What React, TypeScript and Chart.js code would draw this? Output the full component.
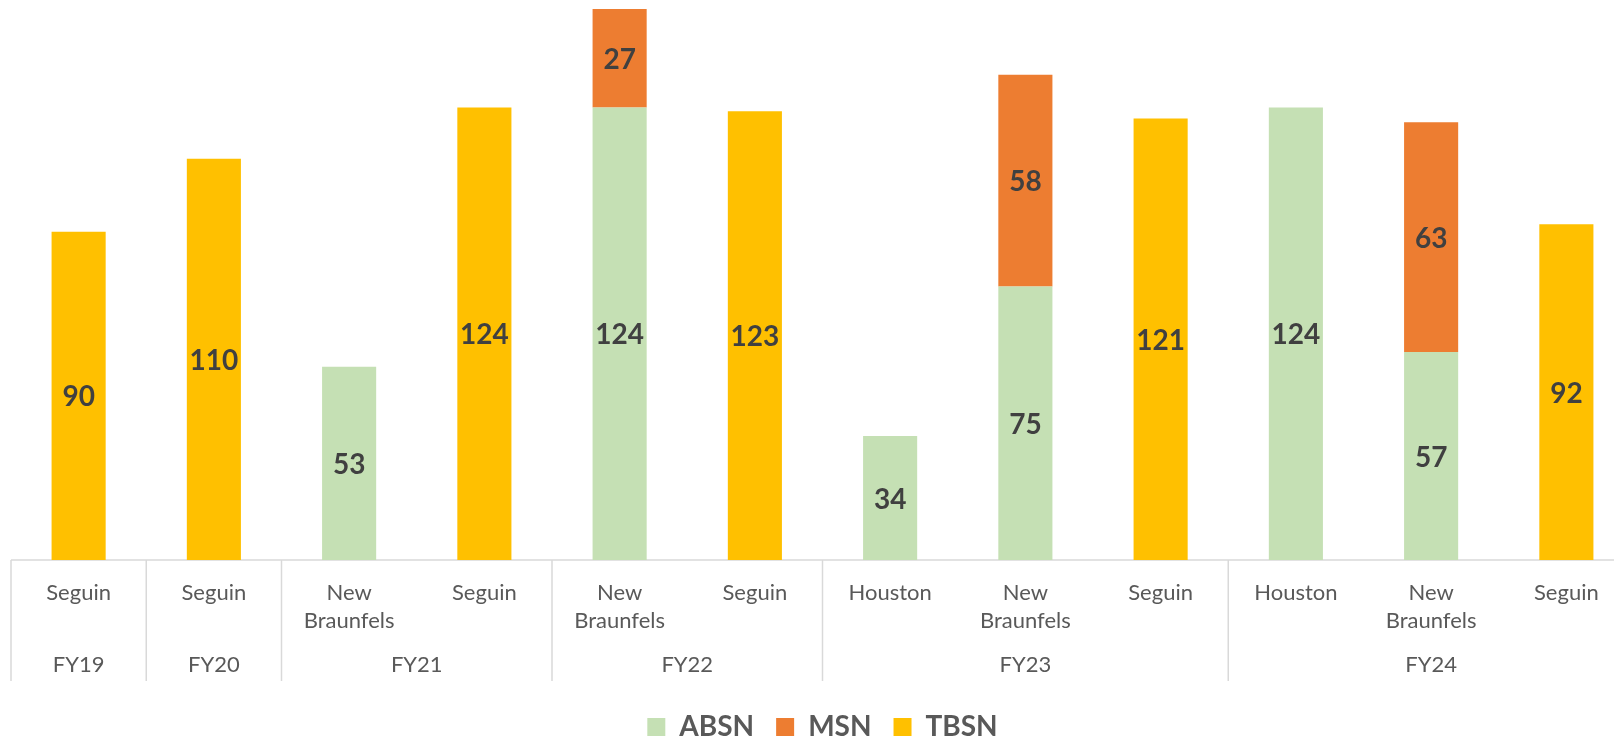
import React, { useEffect, useRef } from "react";
import { Chart, registerables } from "chart.js";

Chart.register(...registerables);

const categories = [
  "Seguin", "Seguin", "New Braunfels", "Seguin", "New Braunfels", "Seguin",
  "Houston", "New Braunfels", "Seguin", "Houston", "New Braunfels", "Seguin",
];
const fiscalYears = [
  "FY19", "FY20", "FY21", "FY21", "FY22", "FY22",
  "FY23", "FY23", "FY23", "FY24", "FY24", "FY24",
];
const absnValues = [null, null, 53, null, 124, null, 34, 75, null, 124, 57, null];
const msnValues = [null, null, null, null, 27, null, null, 58, null, null, 63, null];
const tbsnValues = [90, 110, null, 124, null, 123, null, null, 121, null, null, 92];

const seriesNames = ["ABSN", "MSN", "TBSN"];
const seriesColors = ["#C5E0B4", "#ED7D31", "#FFC000"];

type Group = { label: string; start: number; end: number };
function buildGroups(): Group[] {
  const out: Group[] = [];
  fiscalYears.forEach((fy, i) => {
    const last = out[out.length - 1];
    if (last && last.label === fy) last.end = i;
    else out.push({ label: fy, start: i, end: i });
  });
  return out;
}

const axisPlugin = {
  id: "multiLevelAxis",
  beforeDatasetsDraw(chart: any) {
    const { ctx, chartArea } = chart;
    ctx.save();
    ctx.strokeStyle = "#d9d9d9";
    ctx.lineWidth = 1.5;
    ctx.beginPath();
    ctx.moveTo(chartArea.left, chartArea.bottom);
    ctx.lineTo(chartArea.right, chartArea.bottom);
    ctx.stroke();
    ctx.restore();
  },
  afterDraw(chart: any) {
    const { ctx, chartArea } = chart;
    const x = chart.scales.x;
    const step = x.getPixelForValue(1) - x.getPixelForValue(0);
    const bottom = chartArea.bottom;
    const groups = buildGroups();
    ctx.save();
    ctx.strokeStyle = "#d9d9d9";
    ctx.lineWidth = 1.5;
    groups.forEach((g) => {
      const xl = x.getPixelForValue(g.start) - step / 2;
      ctx.beginPath();
      ctx.moveTo(xl, bottom);
      ctx.lineTo(xl, bottom + 121);
      ctx.stroke();
    });
    const lastG = groups[groups.length - 1];
    const xr = x.getPixelForValue(lastG.end) + step / 2;
    ctx.beginPath();
    ctx.moveTo(xr, bottom);
    ctx.lineTo(xr, bottom + 121);
    ctx.stroke();

    ctx.fillStyle = "#595959";
    ctx.font = "22px Lato";
    ctx.textAlign = "center";
    ctx.textBaseline = "middle";
    categories.forEach((c, i) => {
      const px = x.getPixelForValue(i);
      c.split(" ").forEach((line, j) => {
        ctx.fillText(line, px, bottom + 33 + j * 28);
      });
    });
    groups.forEach((g) => {
      const cx = (x.getPixelForValue(g.start) + x.getPixelForValue(g.end)) / 2;
      ctx.fillText(g.label, cx, bottom + 105);
    });
    ctx.restore();
  },
};

const dataLabelPlugin = {
  id: "segmentLabels",
  afterDatasetsDraw(chart: any) {
    const { ctx } = chart;
    ctx.save();
    ctx.fillStyle = "#404040";
    ctx.font = "bold 28px Lato";
    ctx.textAlign = "center";
    ctx.textBaseline = "middle";
    chart.data.datasets.forEach((ds: any, di: number) => {
      const meta = chart.getDatasetMeta(di);
      meta.data.forEach((el: any, i: number) => {
        const v = ds.data[i];
        if (v === null || v === undefined) return;
        const props = el.getProps(["x", "y", "base"], true);
        ctx.fillText(String(v), props.x, (props.y + props.base) / 2 + 1.5);
      });
    });
    ctx.restore();
  },
};

export default function App() {
  const canvasRef = useRef<HTMLCanvasElement | null>(null);

  useEffect(() => {
    if (!canvasRef.current) return;
    const chart = new Chart(canvasRef.current, {
      type: "bar",
      data: {
        labels: categories,
        datasets: [absnValues, msnValues, tbsnValues].map((vals, k) => ({
          label: seriesNames[k],
          data: vals as any,
          backgroundColor: seriesColors[k],
          borderWidth: 0,
          categoryPercentage: 1,
          barPercentage: 0.4,
        })),
      },
      options: {
        animation: false,
        responsive: false,
        devicePixelRatio: 1,
        layout: { padding: { left: 11, right: 16, top: 0, bottom: 0 } },
        scales: {
          x: {
            stacked: true,
            grid: { display: false },
            border: { display: false },
            ticks: { display: false },
            afterFit: (scale: any) => {
              scale.height = 131;
            },
          },
          y: {
            stacked: true,
            display: false,
            min: 0,
            max: 153.5,
          },
        },
        plugins: {
          legend: {
            position: "bottom",
            labels: {
              boxWidth: 18,
              boxHeight: 18,
              padding: 22,
              color: "#595959",
              font: { family: "Lato", size: 28, weight: "bold" },
            },
          },
          tooltip: { enabled: false },
        },
      },
      plugins: [axisPlugin, dataLabelPlugin],
    });
    if ((document as any).fonts && (document as any).fonts.ready) {
      (document as any).fonts.ready.then(() => chart.update());
    }
    return () => chart.destroy();
  }, []);

  return (
    <div
      style={{
        position: "fixed",
        left: 0,
        top: 0,
        width: 1614,
        height: 736,
        overflow: "hidden",
        background: "#ffffff",
      }}
    >
      <canvas
        ref={canvasRef}
        width={1650}
        height={751}
        style={{ width: 1650, height: 751, display: "block" }}
      />
    </div>
  );
}
